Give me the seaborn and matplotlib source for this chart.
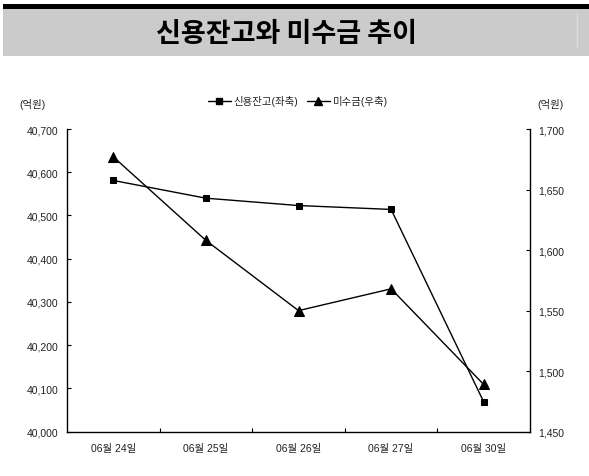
import matplotlib
matplotlib.use("Agg")
import matplotlib.pyplot as plt
from matplotlib.patches import Rectangle
from matplotlib.lines import Line2D
from matplotlib.ticker import FuncFormatter, FixedLocator
import seaborn as sns
import pandas as pd

dates = ["06월 24일", "06월 25일", "06월 26일", "06월 27일", "06월 30일"]
credit_balance = [40581, 40540, 40523, 40514, 40069]
unpaid = [1677, 1608, 1550, 1568, 1489]
left_ticks = [40000, 40100, 40200, 40300, 40400, 40500, 40600, 40700]
right_ticks = [1450, 1500, 1550, 1600, 1650, 1700]
title = "신용잔고와 미수금 추이"
legend_labels = ["신용잔고(좌축)", "미수금(우축)"]
unit = "(억원)"

sns.set_theme(style="white")
plt.rcParams['font.family'] = ['Liberation Sans', 'Noto Sans CJK KR', 'DejaVu Sans']

df = pd.DataFrame({"x": range(len(dates)), "credit": credit_balance, "unpaid": unpaid})

fig = plt.figure(figsize=(5.89, 4.77), dpi=100)
fig.patch.set_facecolor("white")

# title banner
fig.patches.append(Rectangle((3/589, 1-57/477), 586/589, 48/477, transform=fig.transFigure,
                             facecolor="#cbcbcb", edgecolor="none", zorder=0))
fig.patches.append(Rectangle((3/589, 1-10/477), 586/589, 5/477, transform=fig.transFigure,
                             facecolor="black", edgecolor="none", zorder=1))
fig.add_artist(Line2D([577/589, 577/589], [1-14/477, 1-49/477], transform=fig.transFigure,
                      color="#dedede", lw=1))
fig.text(286/589, 1-34/477, title, ha="center", va="center", fontsize=19.5, fontweight="bold",
         family=['Noto Sans CJK KR'], color="black")

ax = fig.add_axes([67/589, 1-432.7/477, (530-67)/589, (432.7-130)/477])
ax2 = ax.twinx()

sns.lineplot(data=df, x="x", y="credit", ax=ax, color="black", lw=1, marker="s",
             markersize=5, markeredgecolor="black", legend=False)
sns.lineplot(data=df, x="x", y="unpaid", ax=ax2, color="black", lw=1, marker="^",
             markersize=6.5, markeredgecolor="black", legend=False)

ax.set_xlim(-0.5, len(dates) - 0.5)
ax.set_ylim(left_ticks[0], left_ticks[-1])
ax2.set_ylim(right_ticks[0], right_ticks[-1])
ax.set_yticks(left_ticks)
ax2.set_yticks(right_ticks)
fmt = FuncFormatter(lambda v, p: f"{int(v):,}")
ax.yaxis.set_major_formatter(fmt)
ax2.yaxis.set_major_formatter(fmt)

ax.set_xticks(range(len(dates)))
ax.set_xticklabels(dates)
ax.xaxis.set_minor_locator(FixedLocator([i + 0.5 for i in range(len(dates))]))
ax.tick_params(axis="x", which="major", length=0, pad=8, labelsize=7.5, colors="#222222")
ax.tick_params(axis="x", which="minor", direction="in", length=3, width=0.8, color="black", bottom=True)
ax.tick_params(axis="y", direction="in", length=3, width=0.8, color="black", left=True,
               labelsize=7.5, labelcolor="#222222", pad=6)
ax2.tick_params(axis="y", direction="in", length=3, width=0.8, color="black", right=True,
                labelsize=7.5, labelcolor="#222222", pad=6)
ax.set_xlabel("")
ax.set_ylabel("")
ax2.set_ylabel("")

for a in (ax, ax2):
    a.spines["top"].set_visible(False)
    for s in ("left", "right", "bottom"):
        a.spines[s].set_color("black")
        a.spines[s].set_linewidth(1)
ax.spines["right"].set_visible(False)
ax2.spines["left"].set_visible(False)
ax2.spines["bottom"].set_visible(False)

fig.text(32/589, 1-104/477, unit, ha="center", va="center", fontsize=7.5, color="#222222")
fig.text(550/589, 1-104/477, unit, ha="center", va="center", fontsize=7.5, color="#222222")

handles = [Line2D([], [], color="black", lw=1, marker="s", markersize=4.5),
           Line2D([], [], color="black", lw=1, marker="^", markersize=5.5)]
fig.legend(handles, legend_labels, loc="center", bbox_to_anchor=(298/589, 1-102/477), ncol=2,
           frameon=False, fontsize=7.5, handlelength=2.2, handletextpad=0.3, columnspacing=0.8,
           labelcolor="#222222")

fig.savefig("out.png", dpi=100, facecolor="white")
